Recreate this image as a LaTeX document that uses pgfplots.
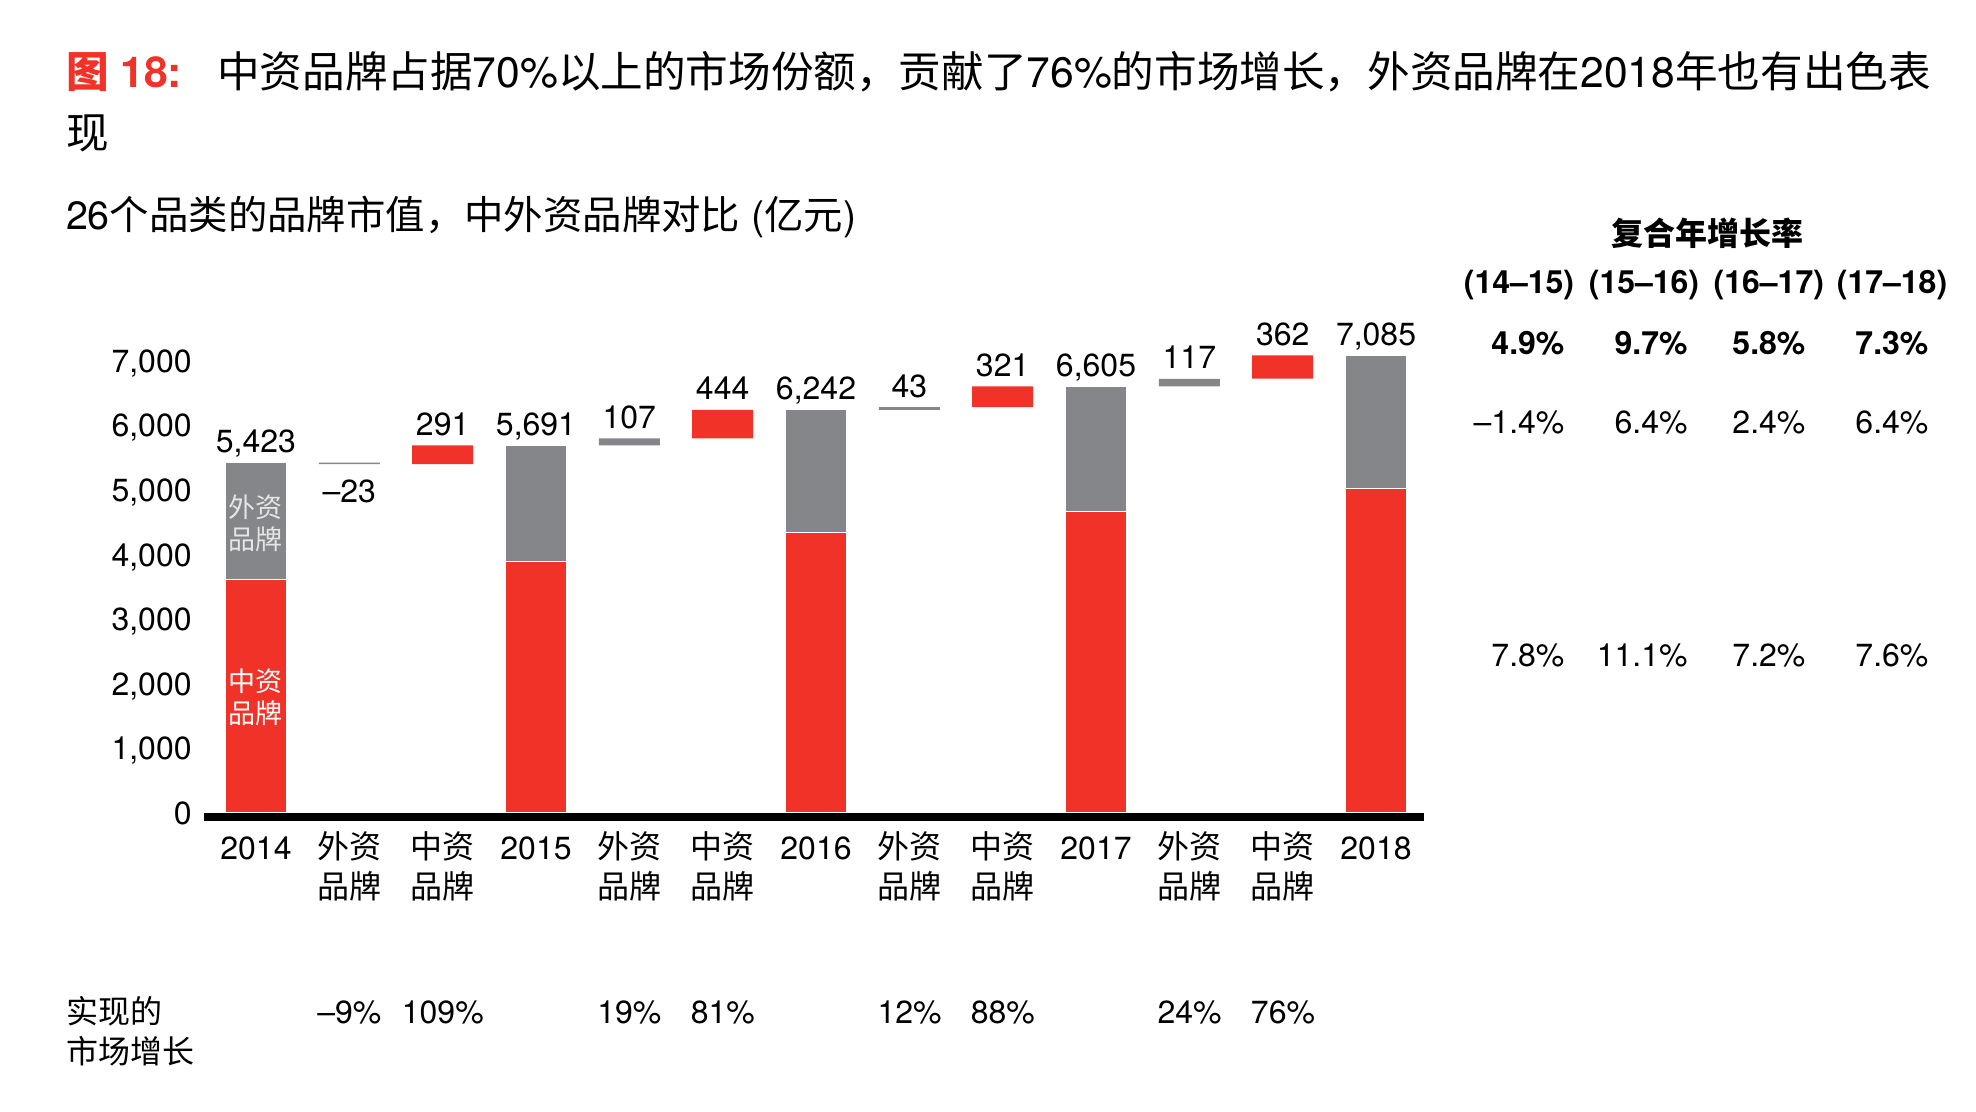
\documentclass[border=0pt]{standalone}
\usepackage{pgfplots}
\pgfplotsset{compat=1.18}
\usepackage{fontspec}
\setmainfont{TeX Gyre Heros}
\newfontfamily\cjk{Noto Sans CJK SC}
\newcommand{\C}[1]{{\cjk #1}}
\definecolor{bred}{HTML}{F03228}
\definecolor{bgrey}{HTML}{85868A}
\tikzset{lab/.style={anchor=base, inner sep=0pt, yshift=5pt, font=\fontsize{16}{19}\selectfont}}
\begin{document}
\begin{tikzpicture}
\path[use as bounding box] (0pt,0pt) rectangle (988pt,556pt);
% ---- title
\node[anchor=base west, inner sep=0pt, font=\fontsize{21.3}{26}\selectfont\bfseries, text=bred] at (32.8pt,512pt) {\C{图} 18:};
\node[anchor=base west, inner sep=0pt, font=\fontsize{21.3}{26}\selectfont] at (108.4pt,512pt)
 {\C{中资品牌占据}70\%\C{以上的市场份额，贡献了}76\%\C{的市场增长，外资品牌在}2018\C{年也有出色表}};
\node[anchor=base west, inner sep=0pt, font=\fontsize{21.3}{26}\selectfont] at (32.8pt,481.5pt) {\C{现}};
\node[anchor=base west, inner sep=0pt, font=\fontsize{19.7}{24}\selectfont] at (32.8pt,441pt)
 {26\C{个品类的品牌市值，中外资品牌对比} (\C{亿元})};
% ---- right table
\begin{scope}[every node/.style={inner sep=0pt, font=\fontsize{16}{19}\selectfont}]
\node[anchor=base, font=\fontsize{16}{19}\selectfont\bfseries] at (853.8pt,433.4pt) {\C{复合年增长率}};
\node[anchor=base, font=\fontsize{16}{19}\selectfont\bfseries] at (759.5pt,409.2pt) {(14--15)};
\node[anchor=base, font=\fontsize{16}{19}\selectfont\bfseries] at (822pt,409.2pt) {(15--16)};
\node[anchor=base, font=\fontsize{16}{19}\selectfont\bfseries] at (884.4pt,409.2pt) {(16--17)};
\node[anchor=base, font=\fontsize{16}{19}\selectfont\bfseries] at (946pt,409.2pt) {(17--18)};
\node[anchor=base east, font=\fontsize{16}{19}\selectfont\bfseries] at (782.4pt,378.7pt) {4.9\%};
\node[anchor=base east, font=\fontsize{16}{19}\selectfont\bfseries] at (844pt,378.7pt) {9.7\%};
\node[anchor=base east, font=\fontsize{16}{19}\selectfont\bfseries] at (902.9pt,378.7pt) {5.8\%};
\node[anchor=base east, font=\fontsize{16}{19}\selectfont\bfseries] at (964.4pt,378.7pt) {7.3\%};
\node[anchor=base east] at (782.4pt,339.4pt) {--1.4\%};
\node[anchor=base east] at (844pt,339.4pt) {6.4\%};
\node[anchor=base east] at (902.9pt,339.4pt) {2.4\%};
\node[anchor=base east] at (964.4pt,339.4pt) {6.4\%};
\node[anchor=base east] at (782.4pt,222.7pt) {7.8\%};
\node[anchor=base east] at (844pt,222.7pt) {11.1\%};
\node[anchor=base east] at (902.9pt,222.7pt) {7.2\%};
\node[anchor=base east] at (964.4pt,222.7pt) {7.6\%};
% ---- bottom row
\node[anchor=base west] at (32.8pt,44pt) {\C{实现的}};
\node[anchor=base west] at (32.8pt,24pt) {\C{市场增长}};
\node[anchor=base] at (174.7pt,44pt) {--9\%};
\node[anchor=base] at (221.4pt,44pt) {109\%};
\node[anchor=base] at (314.7pt,44pt) {19\%};
\node[anchor=base] at (361.4pt,44pt) {81\%};
\node[anchor=base] at (454.8pt,44pt) {12\%};
\node[anchor=base] at (501.4pt,44pt) {88\%};
\node[anchor=base] at (594.8pt,44pt) {24\%};
\node[anchor=base] at (641.5pt,44pt) {76\%};
\end{scope}
% ---- chart
\begin{axis}[
  at={(102pt,149.6pt)}, anchor=south west,
  scale only axis, width=610pt, height=242.1pt,
  xmin=-0.557, xmax=12.514, ymin=0, ymax=7500,
  ybar stacked, bar width=30.5pt,
  axis line style={draw=none}, major tick length=0pt,
  clip=false,
  scaled y ticks=false,
  /pgf/number format/1000 sep={,},
  /pgf/number format/assume math mode=true,
  ytick={0,1000,...,7000},
  yticklabel style={anchor=base east, inner sep=0pt, xshift=-6pt, yshift=-5.75pt, font=\fontsize{16}{19}\selectfont},
  xtick={0,...,12},
  xticklabels={2014,{\C{外资}\\\C{品牌}},{\C{中资}\\\C{品牌}},2015,{\C{外资}\\\C{品牌}},{\C{中资}\\\C{品牌}},2016,{\C{外资}\\\C{品牌}},{\C{中资}\\\C{品牌}},2017,{\C{外资}\\\C{品牌}},{\C{中资}\\\C{品牌}},2018},
  xticklabel style={anchor=north, inner sep=0pt, yshift=-9.2pt, align=center, font=\fontsize{16}{20}\selectfont, execute at begin node=\strut},
]
% invisible base
\addplot[fill=none, draw=none] coordinates {(0,0)(1,5400)(2,5400)(3,0)(4,5691)(5,5798)(6,0)(7,6242)(8,6284)(9,0)(10,6605)(11,6723)(12,0)};
% Chinese brands, yearly
\addplot[fill=bred, draw=white, line width=0.4pt] coordinates {(0,3610)(1,0)(2,0)(3,3901)(4,0)(5,0)(6,4345)(7,0)(8,0)(9,4666)(10,0)(11,0)(12,5028)};
% Chinese brands, change
\addplot[fill=bred, draw=none] coordinates {(0,0)(1,0)(2,291)(3,0)(4,0)(5,444)(6,0)(7,0)(8,321)(9,0)(10,0)(11,362)(12,0)};
% foreign brands, yearly
\addplot[fill=bgrey, draw=white, line width=0.4pt] coordinates {(0,1813)(1,0)(2,0)(3,1790)(4,0)(5,0)(6,1897)(7,0)(8,0)(9,1939)(10,0)(11,0)(12,2057)};
% foreign brands, change
\addplot[fill=bgrey, draw=none] coordinates {(0,0)(1,23)(2,0)(3,0)(4,107)(5,0)(6,0)(7,43)(8,0)(9,0)(10,117)(11,0)(12,0)};
% baseline
\draw[line width=4pt] ([yshift=-2pt]rel axis cs:0,0) -- ([yshift=-2pt]rel axis cs:1,0);
% value labels
\node[lab] at (axis cs:0,5423) {5,423};
\node[lab, yshift=-24pt] at (axis cs:1,5400) {--23};
\node[lab] at (axis cs:2,5691) {291};
\node[lab] at (axis cs:3,5691) {5,691};
\node[lab] at (axis cs:4,5798) {107};
\node[lab] at (axis cs:5,6242) {444};
\node[lab] at (axis cs:6,6242) {6,242};
\node[lab] at (axis cs:7,6285) {43};
\node[lab] at (axis cs:8,6605) {321};
\node[lab] at (axis cs:9,6605) {6,605};
\node[lab] at (axis cs:10,6722) {117};
\node[lab] at (axis cs:11,7085) {362};
\node[lab] at (axis cs:12,7085) {7,085};
\coordinate (wz) at (axis cs:0,4488);
\coordinate (zz) at (axis cs:0,1788);
\end{axis}
% segment names in first bar (drawn above the bars)
\node[align=center, inner sep=0pt, font=\fontsize{13.5}{16}\selectfont, text=white!90!black] at (wz) {\C{外资}\\\C{品牌}};
\node[align=center, inner sep=0pt, font=\fontsize{13.5}{16}\selectfont, text=white] at (zz) {\C{中资}\\\C{品牌}};
\end{tikzpicture}
\end{document}
